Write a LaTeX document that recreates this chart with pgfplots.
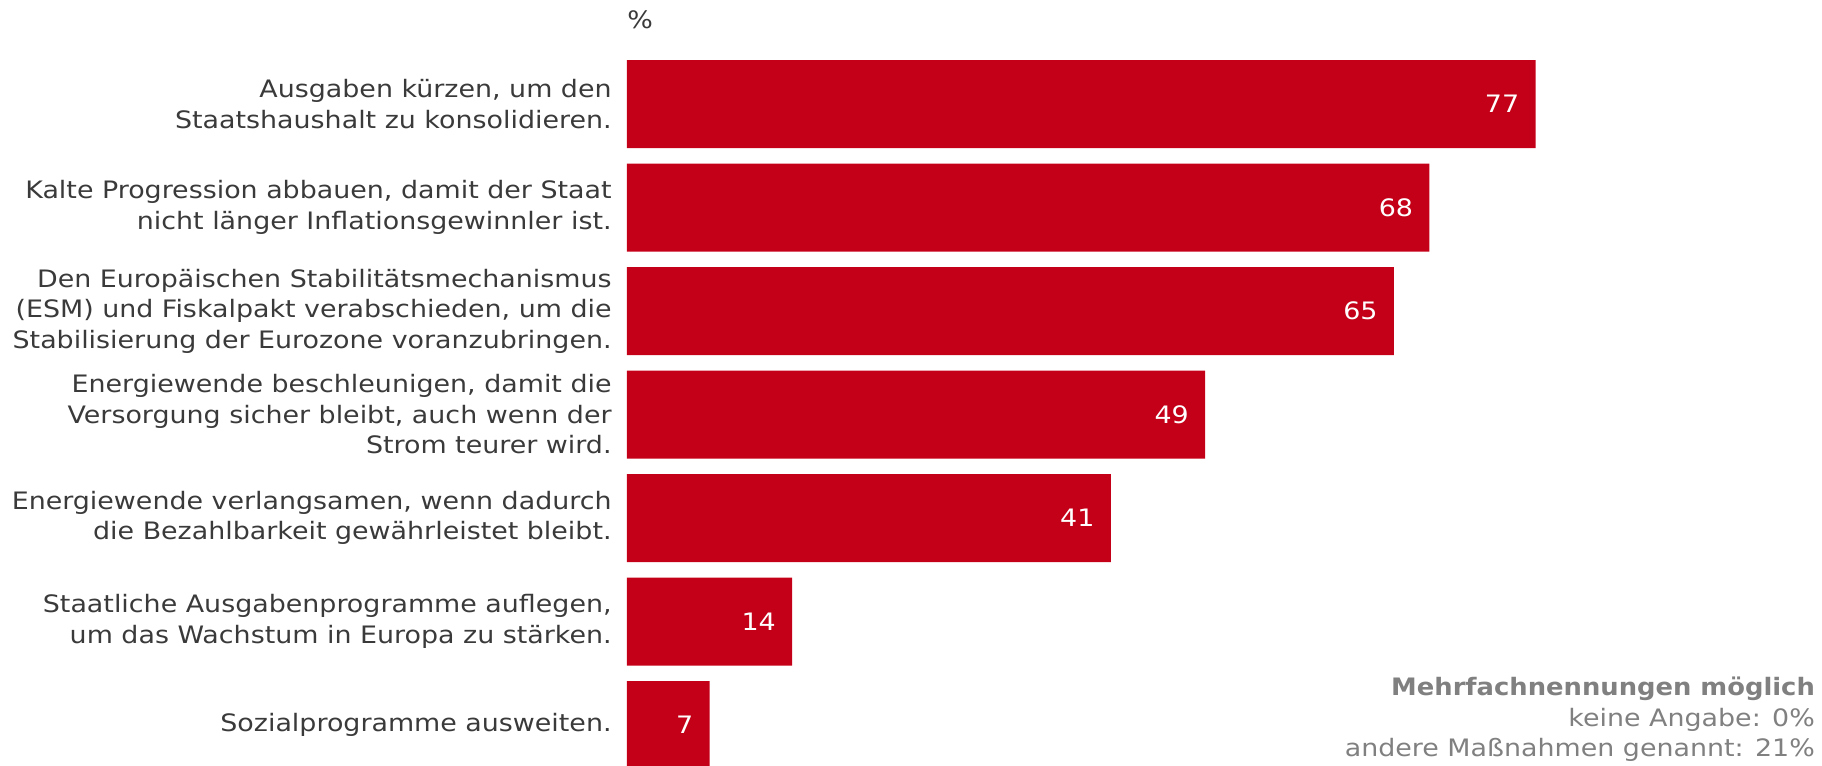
\documentclass[border=0pt]{standalone}
\usepackage{fontspec}
\setmainfont{DejaVu Sans}[FakeStretch=1.12, BoldFeatures={FakeStretch=1.075}]
\usepackage{pgfplots}
\pgfplotsset{compat=1.18}
\definecolor{barred}{HTML}{C40018}
\definecolor{labelgray}{HTML}{3A3A3A}
\definecolor{notegray}{HTML}{808080}
\newcommand{\chartfont}{\fontsize{12}{15.25}\selectfont}
\begin{document}
\begin{tikzpicture}
\begin{axis}[
    name=ax,
    xbar,
    scale only axis,
    width=590pt,
    height=383pt,
    xmin=0, xmax=100,
    ymin=-1.005, ymax=6.396,
    y dir=reverse,
    enlargelimits=false,
    axis line style={draw=none},
    xtick=\empty,
    clip=false,
    bar width=44pt,
    ytick={0,1,2,3,4,5,6},
    yticklabels={
        {Ausgaben kürzen, um den\\Staatshaushalt zu konsolidieren.},
        {Kalte Progression abbauen, damit der Staat\\nicht länger Inflationsgewinnler ist.},
        {Den Europäischen Stabilitätsmechanismus\\(ESM) und Fiskalpakt verabschieden, um die\\Stabilisierung der Eurozone voranzubringen.},
        {Energiewende beschleunigen, damit die\\Versorgung sicher bleibt, auch wenn der\\Strom teurer wird.},
        {Energiewende verlangsamen, wenn dadurch\\die Bezahlbarkeit gewährleistet bleibt.},
        {Staatliche Ausgabenprogramme auflegen,\\um das Wachstum in Europa zu stärken.},
        {Sozialprogramme ausweiten.}
    },
    yticklabel style={align=right, font=\chartfont,
        text=labelgray, inner sep=0pt, xshift=-7.5pt},
    major tick length=0pt,
    /pgf/number format/assume math mode=true,
    point meta=x,
    nodes near coords,
    every node near coord/.append style={anchor=east, xshift=-8pt, inner sep=0pt,
        text=white, font=\chartfont},
]
\addplot[fill=barred, draw=none] coordinates {
    (77,0) (68,1) (65,2) (49,3) (41,4) (14,5) (7,6)
};
\node[anchor=west, inner sep=0pt, text=labelgray, font=\chartfont]
    at (axis cs:0,-0.81) {\%};
\node[anchor=south east, inner sep=0pt, align=right, text=notegray, font=\chartfont]
    at (axis cs:100.7,6.357) {\textbf{Mehrfachnennungen möglich}\\keine Angabe: 0\%\\andere Maßnahmen genannt: 21\%};
\end{axis}
\pgfresetboundingbox
\path[use as bounding box] ([xshift=-313.5pt]ax.south west) rectangle ([xshift=7.5pt]ax.north east);
\end{tikzpicture}
\end{document}
